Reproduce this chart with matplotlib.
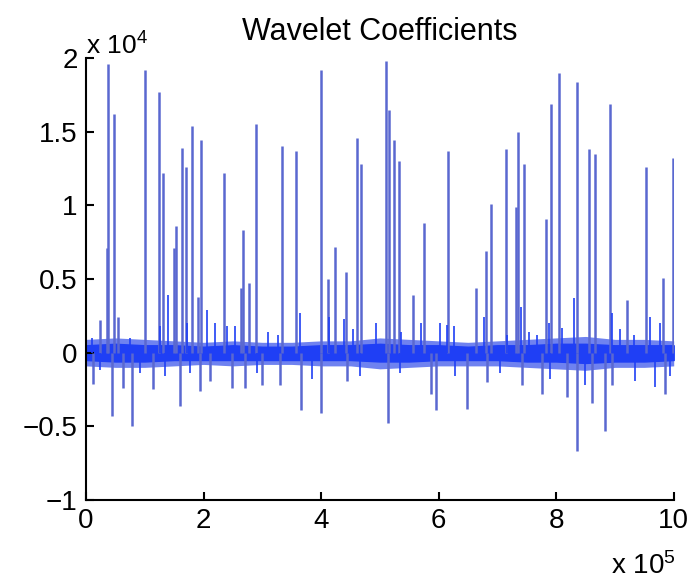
import matplotlib
matplotlib.use('Agg')
import matplotlib.pyplot as plt

plt.rcParams['font.family'] = ['Liberation Sans', 'DejaVu Sans']

# x in units of 1e5, y in units of 1e4
spike_x = [0.357, 0.374, 0.476, 0.238, 0.544, 1.003, 1.241, 1.310, 1.497, 1.531,
           1.633, 1.701, 1.803, 1.905, 1.956, 2.347, 2.636, 2.670, 2.772, 2.891,
           3.333, 3.571, 3.997, 4.116, 4.235, 4.422, 4.609, 4.677, 5.102, 5.153,
           5.238, 5.323, 5.561, 5.748, 6.156, 6.633, 6.803, 6.888, 7.143, 7.313,
           7.347, 7.449, 7.823, 7.908, 8.044, 8.350, 8.554, 8.656, 8.912, 9.201,
           9.524, 9.813, 9.983]
spike_y = [0.71, 1.96, 1.62, 0.22, 0.24, 1.92, 1.77, 1.22, 0.71, 0.86,
           1.39, 1.26, 1.54, 0.38, 1.44, 1.22, 0.44, 0.83, 0.47, 1.55,
           1.40, 1.37, 1.92, 0.50, 0.72, 0.55, 1.46, 1.28, 1.98, 1.65,
           1.44, 1.30, 0.39, 0.88, 1.37, 0.44, 0.69, 1.01, 1.38, 0.99,
           1.50, 1.28, 0.91, 1.69, 1.90, 1.84, 1.38, 1.35, 1.69, 0.36,
           1.26, 0.51, 1.32]

neg_x = [0.119, 0.442, 0.629, 0.782, 1.139, 1.599, 1.939, 3.656, 3.997, 5.136,
         5.867, 5.952, 6.480, 6.820, 7.755, 8.180, 8.350, 8.605, 8.827, 8.946,
         9.847, 2.483, 2.704, 2.993, 3.299, 4.439, 7.415, 2.109]
neg_y = [-0.21, -0.43, -0.24, -0.50, -0.25, -0.36, -0.26, -0.39, -0.41, -0.48,
         -0.28, -0.39, -0.38, -0.20, -0.28, -0.30, -0.67, -0.34, -0.53, -0.22,
         -0.28, -0.24, -0.24, -0.22, -0.22, -0.19, -0.22, -0.19]

small_x = [0.102, 0.748, 1.259, 1.395, 1.718, 2.058, 2.194, 2.398, 2.534, 3.095,
           3.265, 3.639, 4.133, 4.388, 4.541, 4.932, 5.357, 5.697, 6.020, 6.139,
           6.259, 6.769, 7.160, 7.398, 7.534, 7.670, 7.874, 8.095, 8.299, 8.946,
           9.082, 9.320, 9.592, 9.762,
           0.238, 0.918, 1.344, 1.769, 2.908, 3.844, 4.660, 5.340, 6.276, 7.041,
           7.891, 8.486, 9.337, 9.677, 9.932]
small_y = [0.10, 0.10, 0.18, 0.39, 0.20, 0.29, 0.20, 0.18, 0.18, 0.14,
           0.12, 0.27, 0.24, 0.23, 0.16, 0.20, 0.14, 0.20, 0.20, 0.19,
           0.18, 0.24, 0.12, 0.31, 0.14, 0.12, 0.20, 0.17, 0.37, 0.27,
           0.16, 0.12, 0.24, 0.20,
           -0.12, -0.14, -0.16, -0.14, -0.14, -0.18, -0.16, -0.14, -0.16, -0.14,
           -0.18, -0.22, -0.19, -0.23, -0.16]

# noise band: outer (faint) envelope and dense core
band_x = [0, 0.5, 1, 1.5, 2, 2.5, 3, 3.5, 4, 4.5, 5, 5.5, 6, 6.5, 7, 7.5, 8, 8.5, 9, 9.5, 10]
band_hi = [0.09, 0.10, 0.09, 0.08, 0.07, 0.08, 0.07, 0.07, 0.08, 0.08, 0.10,
           0.09, 0.08, 0.07, 0.08, 0.09, 0.10, 0.11, 0.09, 0.09, 0.08]
band_lo = [-0.09, -0.10, -0.10, -0.09, -0.08, -0.09, -0.08, -0.08, -0.09, -0.09, -0.11,
           -0.10, -0.09, -0.09, -0.09, -0.10, -0.11, -0.12, -0.10, -0.10, -0.09]
core_hi = [0.05, 0.06, 0.05, 0.05, 0.04, 0.05, 0.04, 0.04, 0.05, 0.05, 0.06,
           0.05, 0.05, 0.04, 0.05, 0.05, 0.06, 0.06, 0.05, 0.05, 0.05]
core_lo = [-0.05, -0.06, -0.06, -0.05, -0.05, -0.05, -0.05, -0.05, -0.05, -0.05, -0.06,
           -0.06, -0.05, -0.05, -0.05, -0.06, -0.06, -0.07, -0.06, -0.06, -0.05]

fig = plt.figure(figsize=(6.89, 5.80), dpi=100)
ax = fig.add_axes([0.1248, 0.138, 0.853, 0.762])

spike_col = '#5a68d0'
band_col = '#1f3ff5'

ax.vlines(spike_x, 0, spike_y, color=spike_col, linewidth=1.8)
ax.vlines(neg_x, 0, neg_y, color=spike_col, linewidth=1.8)
ax.vlines(small_x, 0, small_y, color=band_col, linewidth=1.2)
ax.fill_between(band_x, band_lo, band_hi, color='#6f82f0', linewidth=0)
ax.fill_between(band_x, core_lo, core_hi, color=band_col, linewidth=1.0, edgecolor=band_col)

ax.set_xlim(0, 10)
ax.set_ylim(-1, 2)
ax.set_xticks([0, 2, 4, 6, 8, 10])
ax.set_xticklabels(['0', '2', '4', '6', '8', '10'])
ax.set_yticks([-1, -0.5, 0, 0.5, 1, 1.5, 2])
ax.set_yticklabels(['\u22121', '\u22120.5', '0', '0.5', '1', '1.5', '2'])

for s in ['top', 'right']:
    ax.spines[s].set_visible(False)
for s in ['left', 'bottom']:
    ax.spines[s].set_linewidth(1.5)
ax.tick_params(direction='in', length=6, width=1.5, labelsize=20, pad=6)

ax.set_title('Wavelet Coefficients', fontsize=22, pad=13)
ax.text(0.0, 0.996, 'x 10$\\mathregular{^4}$', transform=ax.transAxes,
        fontsize=19, ha='left', va='bottom')
fig.text(0.98, 0.0, 'x 10$\\mathregular{^5}$', fontsize=20, ha='right', va='bottom')

fig.savefig('out.png', dpi=100)
